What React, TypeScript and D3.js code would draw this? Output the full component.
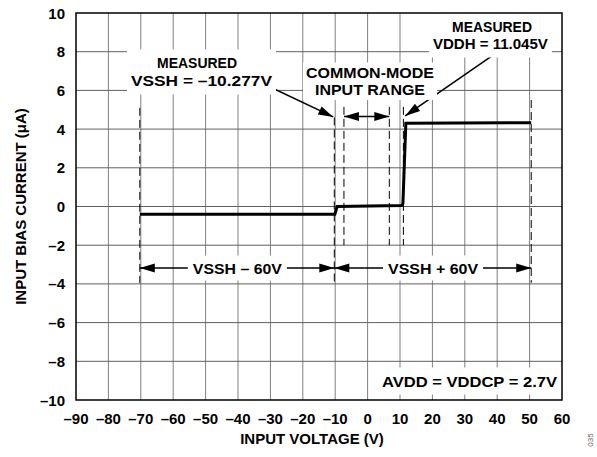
import React, { useRef, useEffect } from 'react';
import * as d3 from 'd3';

// axis ticks
const xTicks = [-90, -80, -70, -60, -50, -40, -30, -20, -10, 0, 10, 20, 30, 40, 50, 60];
const yTicks = [-10, -8, -6, -4, -2, 0, 2, 4, 6, 8, 10];

// measured bias current curve (V, µA)
const curveV = [-70.3, -10.1, -9.4, 10.5, 10.9, 11.8, 50.5];
const curveI = [-0.4, -0.4, 0, 0.05, 0.15, 4.3, 4.33];

// dashed markers: voltage, top and bottom (µA)
const markV = [-70.3, -10.277, -7.3, 6.7, 11.045, 50.5];
const markTop = [5.1, 4.6, 5.15, 5.15, 5.15, 5.5];
const markBottom = [-3.95, -3.95, -2.0, -2.0, -2.0, -3.95];

const W = 597;
const H = 457;
const left = 76;
const right = 562;
const top = 13;
const bottom = 400;
const font = "'Liberation Sans', Arial, Helvetica, sans-serif";

const fmt = (v: number) => (v < 0 ? '\u2013' + Math.abs(v) : String(v));

type Line = { t: string; v: number; i: number; len: number };

const App: React.FC = () => {
  const ref = useRef<SVGSVGElement | null>(null);

  useEffect(() => {
    if (!ref.current) return;
    const svg = d3.select(ref.current);
    svg.selectAll('*').remove();

    const x = d3.scaleLinear().domain([-90, 60]).range([left, right]);
    const y = d3.scaleLinear().domain([-10, 10]).range([bottom, top]);

    const grid = svg.append('g');
    const marks = svg.append('g');
    const boxes = svg.append('g');
    const frame = svg.append('g');
    const labels = svg.append('g').style('font-family', font).style('font-weight', 'bold');

    // grid
    grid
      .selectAll('line.v')
      .data(xTicks.slice(1, -1))
      .join('line')
      .attr('x1', (d) => x(d))
      .attr('x2', (d) => x(d))
      .attr('y1', top)
      .attr('y2', bottom)
      .attr('stroke', '#808080')
      .attr('stroke-width', 1);
    grid
      .selectAll('line.h')
      .data(yTicks.slice(1, -1))
      .join('line')
      .attr('x1', left)
      .attr('x2', right)
      .attr('y1', (d) => y(d))
      .attr('y2', (d) => y(d))
      .attr('stroke', '#606060')
      .attr('stroke-width', 1);

    // tick labels
    labels
      .selectAll('text.xt')
      .data(xTicks)
      .join('text')
      .attr('x', (d) => x(d))
      .attr('y', 424)
      .attr('text-anchor', 'middle')
      .attr('font-size', 15)
      .text(fmt);
    labels
      .selectAll('text.yt')
      .data(yTicks)
      .join('text')
      .attr('class', 'yt')
      .attr('x', 65)
      .attr('y', (d) => y(d) + 5.5)
      .attr('text-anchor', 'end')
      .attr('font-size', 15)
      .text(fmt);

    // axis titles
    labels
      .append('text')
      .attr('x', 312)
      .attr('y', 444)
      .attr('text-anchor', 'middle')
      .attr('font-size', 15)
      .text('INPUT VOLTAGE (V)');
    labels
      .append('text')
      .attr('transform', `translate(26, ${(top + bottom) / 2}) rotate(-90)`)
      .attr('text-anchor', 'middle')
      .attr('font-size', 15)
      .text('INPUT BIAS CURRENT (\u03bcA)');
    svg
      .append('text')
      .attr('transform', 'translate(593, 440) rotate(-90)')
      .attr('text-anchor', 'middle')
      .attr('font-family', font)
      .attr('font-size', 8)
      .attr('fill', '#666')
      .text('035');

    // annotation text with white backing
    const note = (lines: Line[], px: number, py: number) => {
      const nodes = lines.map((l) =>
        labels
          .append('text')
          .attr('x', x(l.v))
          .attr('y', y(l.i) + 5.5)
          .attr('text-anchor', 'middle')
          .attr('font-size', 15)
          .attr('textLength', l.len)
          .attr('lengthAdjust', 'spacingAndGlyphs')
          .text(l.t)
      );
      const bb = nodes.map((n) => (n.node() as SVGTextElement).getBBox());
      const x0 = d3.min(bb, (b) => b.x)!;
      const x1 = d3.max(bb, (b) => b.x + b.width)!;
      const y0 = d3.min(bb, (b) => b.y)!;
      const y1 = d3.max(bb, (b) => b.y + b.height)!;
      boxes
        .append('rect')
        .attr('x', x0 - px)
        .attr('y', y0 - py)
        .attr('width', x1 - x0 + 2 * px)
        .attr('height', y1 - y0 + 2 * py)
        .attr('fill', '#fff');
    };

    note(
      [
        { t: 'MEASURED', v: -52.65, i: 7.42, len: 80 },
        { t: 'VSSH = \u201310.277V', v: -51.27, i: 6.49, len: 141 },
      ],
      4,
      5
    );
    note(
      [
        { t: 'COMMON-MODE', v: 0.74, i: 6.9, len: 128 },
        { t: 'INPUT RANGE', v: 0.74, i: 6.05, len: 110 },
      ],
      3,
      2
    );
    note(
      [
        { t: 'MEASURED', v: 38.4, i: 9.28, len: 80 },
        { t: 'VDDH = 11.045V', v: 37.9, i: 8.4, len: 115 },
      ],
      4,
      5
    );
    note([{ t: 'VSSH \u2013 60V', v: -40.2, i: -3.18, len: 89 }], 5, 4);
    note([{ t: 'VSSH + 60V', v: 20.2, i: -3.18, len: 90 }], 5, 4);
    note([{ t: 'AVDD = VDDCP = 2.7V', v: 31.45, i: -9.02, len: 175 }], 10, 5);

    // frame
    frame
      .append('rect')
      .attr('x', left)
      .attr('y', top)
      .attr('width', right - left)
      .attr('height', bottom - top)
      .attr('fill', 'none')
      .attr('stroke', '#000')
      .attr('stroke-width', 1.5);

    // dashed markers
    marks
      .selectAll('line.m')
      .data(markV)
      .join('line')
      .attr('x1', (d) => x(d))
      .attr('x2', (d) => x(d))
      .attr('y1', (_, k) => y(markTop[k]))
      .attr('y2', (_, k) => y(markBottom[k]))
      .attr('stroke', '#000')
      .attr('stroke-width', 1)
      .attr('stroke-dasharray', '8,4');

    // curve
    const line = d3
      .line<number>()
      .x((d) => x(d))
      .y((_, k) => y(curveI[k]));
    marks
      .append('path')
      .attr('d', line(curveV))
      .attr('fill', 'none')
      .attr('stroke', '#000')
      .attr('stroke-width', 3);

    // arrows
    const head = (ax: number, ay: number, bx: number, by: number) => {
      const a = Math.atan2(by - ay, bx - ax);
      const L = 15;
      const w = 4.5;
      const p = [
        [bx, by],
        [bx - L * Math.cos(a) + w * Math.sin(a), by - L * Math.sin(a) - w * Math.cos(a)],
        [bx - L * Math.cos(a) - w * Math.sin(a), by - L * Math.sin(a) + w * Math.cos(a)],
      ];
      marks.append('path').attr('d', `M${p.map((q) => q.join(',')).join('L')}Z`).attr('fill', '#000');
    };
    const arrow = (v0: number, i0: number, v1: number, i1: number, both: boolean) => {
      const ax = x(v0), ay = y(i0), bx = x(v1), by = y(i1);
      marks
        .append('line')
        .attr('x1', ax)
        .attr('y1', ay)
        .attr('x2', bx)
        .attr('y2', by)
        .attr('stroke', '#000')
        .attr('stroke-width', 1.5);
      head(ax, ay, bx, by);
      if (both) head(bx, by, ax, ay);
    };

    arrow(-31.4, 6.28, -10.6, 4.63, false);
    arrow(38.4, 7.78, 11.6, 4.68, false);
    arrow(-7.3, 4.65, 6.7, 4.65, true);
    arrow(-70.3, -3.18, -10.277, -3.18, true);
    arrow(-10.277, -3.18, 50.5, -3.18, true);
  }, []);

  return <svg ref={ref} width={W} height={H} style={{ display: 'block', position: 'absolute', left: 0, top: 0 }} />;
};

export default App;
